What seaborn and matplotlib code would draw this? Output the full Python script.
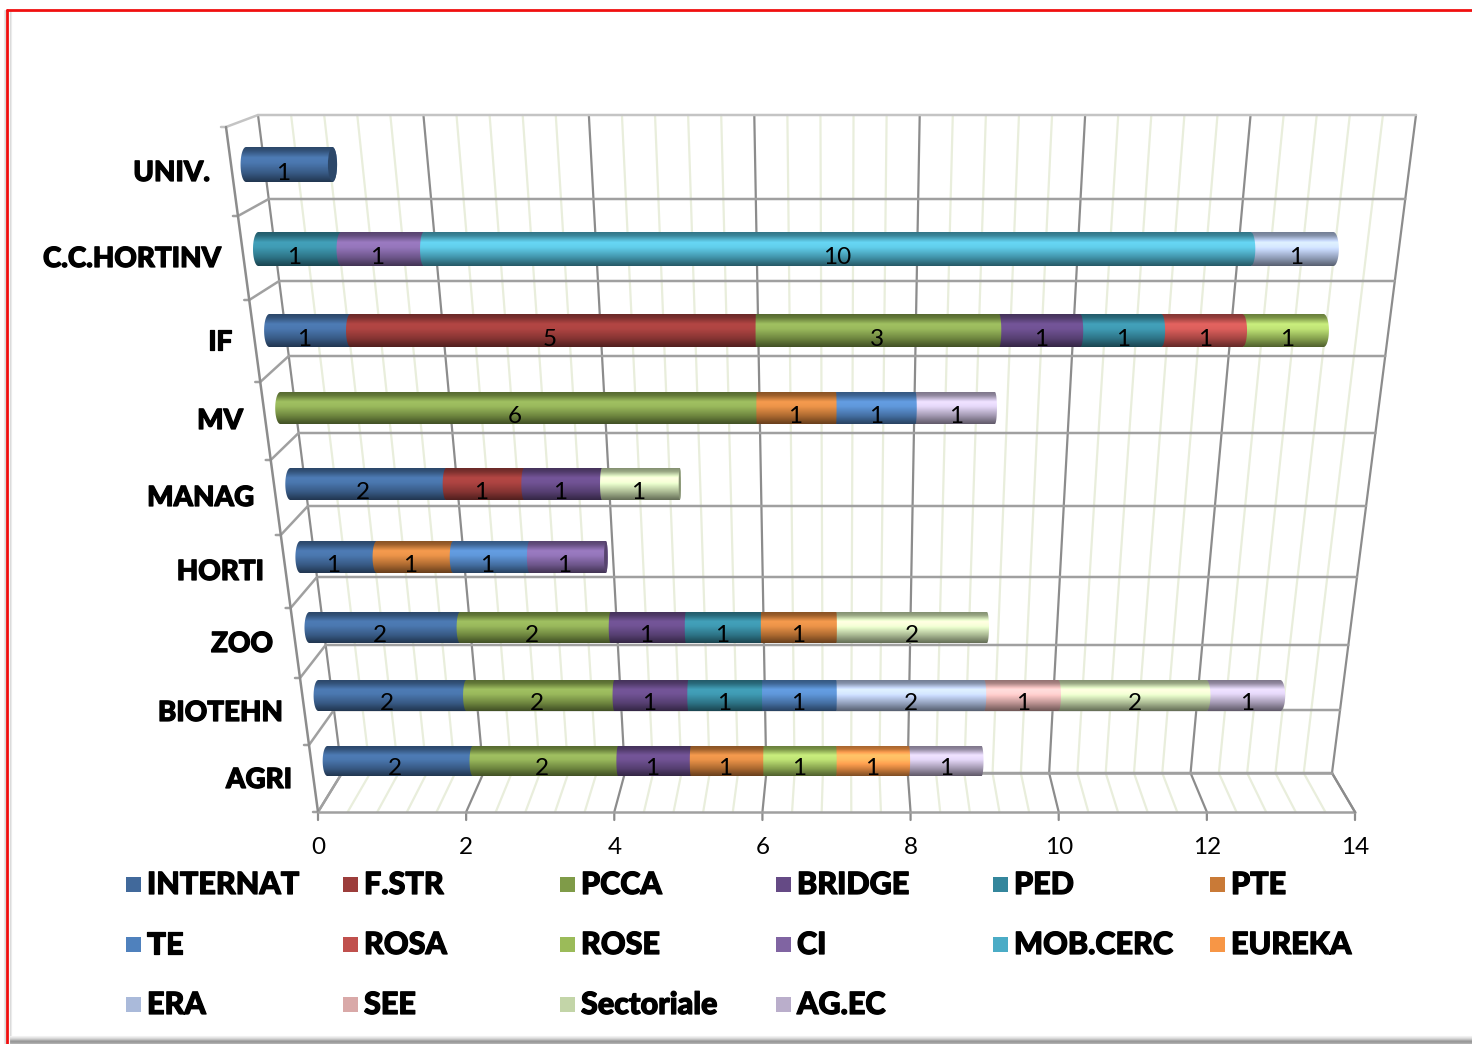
import numpy as np
import pandas as pd
import matplotlib
matplotlib.use("Agg")
import matplotlib.pyplot as plt
import matplotlib.patheffects as pe
from matplotlib.colors import to_rgb
from matplotlib.patches import Ellipse, Polygon, Rectangle
import seaborn as sns

# row order is top to bottom as in the picture
categories = ["UNIV.", "C.C.HORTINV", "IF", "MV", "MANAG", "HORTI", "ZOO", "BIOTEHN", "AGRI"]

internat = [1, 0, 1, 0, 2, 1, 2, 2, 2]
f_str = [0, 0, 5, 0, 1, 0, 0, 0, 0]
pcca = [0, 0, 3, 6, 0, 0, 2, 2, 2]
bridge = [0, 0, 1, 0, 1, 0, 1, 1, 1]
ped = [0, 1, 1, 0, 0, 0, 1, 1, 0]
pte = [0, 0, 0, 1, 0, 1, 1, 0, 1]
te = [0, 0, 0, 1, 0, 1, 0, 1, 0]
rosa = [0, 0, 1, 0, 0, 0, 0, 0, 0]
rose = [0, 0, 1, 0, 0, 0, 0, 0, 1]
ci = [0, 1, 0, 0, 0, 1, 0, 0, 0]
mob_cerc = [0, 10, 0, 0, 0, 0, 0, 0, 0]
eureka = [0, 0, 0, 0, 0, 0, 0, 0, 1]
era = [0, 1, 0, 0, 0, 0, 0, 2, 0]
see = [0, 0, 0, 0, 0, 0, 0, 1, 0]
sectoriale = [0, 0, 0, 0, 1, 0, 2, 2, 0]
ag_ec = [0, 0, 0, 1, 0, 0, 0, 1, 1]

series_names = ["INTERNAT", "F.STR", "PCCA", "BRIDGE", "PED", "PTE", "TE", "ROSA", "ROSE", "CI",
                "MOB.CERC", "EUREKA", "ERA", "SEE", "Sectoriale", "AG.EC"]
series_colors = ["#41699b", "#9c3d3b", "#7f9b48", "#654a85", "#34869c", "#c97a37", "#4f81bd", "#c0504d",
                 "#9bbb59", "#8064a2", "#4bacc6", "#f79646", "#aabada", "#d9a9a8", "#c3d5a8", "#baaecb"]
x_ticks = [0, 2, 4, 6, 8, 10, 12, 14]

df = pd.DataFrame(
    [internat, f_str, pcca, bridge, ped, pte, te, rosa, rose, ci, mob_cerc, eureka, era, see, sectoriale, ag_ec],
    index=series_names, columns=categories,
)

# perspective layout in pixels, one row per category
W, H = 1472, 1044
row_x0 = [246, 258.3, 269.3, 280.3, 290.3, 300.3, 309.3, 318.3, 327.3]
row_unit = [86.5, 82.7, 81.1, 79.4, 77.9, 76.4, 75.3, 74.0, 72.7]
row_top = [147, 232, 314, 392, 468, 541, 612, 680, 746]
row_bot = [182, 266, 347, 424, 500, 573, 643, 711, 776]
label_x = [210, 221, 232, 243, 254, 264, 273, 283, 292]
label_y = [173, 259, 342, 421, 498, 572, 644, 713, 780]
wall_y = [115, 199, 281, 356, 433, 506, 577, 645, 710, 773]
front_y = [127, 216, 300, 382, 460, 535, 608, 678, 745, 812]

sns.set_theme(style="white")
plt.rcParams["font.family"] = ["Lato", "DejaVu Sans"]
heavy = [pe.withStroke(linewidth=0.9, foreground="black")]

fig = plt.figure(figsize=(W / 100, H / 100), dpi=100, facecolor="white")
bg = fig.add_axes([0, 0, 1, 1])
bg.set_xlim(0, W)
bg.set_ylim(H, 0)
bg.axis("off")

# page border
for off, al in [(-3, 0.15), (-2, 0.25), (3, 0.25), (4, 0.12)]:
    bg.plot([7 + off, 7 + off], [10, H], color="#777777", alpha=al, lw=0.8)
bg.plot([7, 7], [10, H], color="#f01010", lw=2)
bg.plot([7, W], [10, 10], color="#f01010", lw=2)
for y, g in zip(range(1036, 1044), ["#f2f2f2", "#e6e6e6", "#d8d8d8", "#c4c4c4", "#aaaaaa", "#999999", "#a0a0a0", "#b0b0b0"]):
    bg.plot([10, W], [y, y], color=g, lw=0.8)


def back_top(v):
    return 258 + v * 1158 / 14


def back_bot(v):
    return 342 + v * 990 / 14


def front(v):
    return 318 + v * 1037 / 14


def wall_left(y):
    return 258 + (y - 115) * 84 / 658


def front_left(y):
    return 226 + (y - 127) * 92 / 685


# minor gridlines
minor = "#e9eedc"
for v in np.arange(0, 14.01, 0.4):
    if abs(v / 2 - round(v / 2)) < 1e-6:
        continue
    bg.plot([back_top(v), back_bot(v), front(v)], [115, 773, 812], color=minor, lw=1.6, zorder=1)

# major gridlines on walls and floor
major = "#8c8c8c"
for v in x_ticks:
    bg.plot([back_top(v), back_bot(v), front(v), front(v)], [115, 773, 812, 820], color=major, lw=1.6, zorder=2)
    bg.text(front(v), 847, str(v), ha="center", va="center", fontsize=17.5, color="black")
for yb, yf in zip(wall_y, front_y):
    col = "#c4c4c4" if yb == 115 else "#a0a0a0"
    bg.plot([front_left(yf) - 5, front_left(yf), wall_left(yb), back_top(14) - (yb - 115) * 84 / 658],
            [yf, yf, yb, yb], color=col, lw=1.8, zorder=2)
bg.plot([front_left(127), front(0)], [127, 812], color=major, lw=1.8, zorder=2)
bg.plot([front(0), front(14)], [812, 812], color="#a0a0a0", lw=1.8, zorder=2)
bg.plot([front(14), back_bot(14)], [812, 773], color=major, lw=1.6, zorder=2)
bg.plot([back_bot(0), back_bot(14)], [773, 773], color="#a0a0a0", lw=1.8, zorder=2)

for name, x, y in zip(categories, label_x, label_y):
    bg.text(x, y, name, ha="right", va="center", fontsize=20, fontweight="black", color="black",
            path_effects=heavy)


def bulge(px):
    # how far an end circle of the cylinder shows at this pixel column
    return (px - 790) / 100


def edge_curve(edge, s, n=24):
    phi = np.linspace(-np.pi / 2, np.pi / 2, n)
    return edge + s * np.cos(phi), 0.5 * np.sin(phi)


def outline(start, end, s0, s1):
    lx, ly = edge_curve(start, s0)
    rx, ry = edge_curve(end, s1)
    return np.column_stack([np.r_[lx, rx[::-1]], np.r_[ly, ry[::-1]]])


def shade_image(color):
    # lit cylinder: darker at both rims, brighter just above the middle
    base = np.array(to_rgb(color))
    lum = 0.3 * base[0] + 0.59 * base[1] + 0.11 * base[2]
    t = np.linspace(0, 1, 64)
    mult = np.interp(t, [0, 0.1, 0.3, 0.45, 0.75, 0.92, 1], [0.68, 0.78, 1.15, 1.12, 0.85, 0.62, 0.52])
    glow = np.interp(t, [0, 0.1, 0.3, 0.45, 0.75, 1], [0, 0, 1, 0.8, 0.1, 0])
    add = 0.3 * max(lum - 0.35, 0) * glow
    img = np.clip(base[None, :] * mult[:, None] + add[:, None], 0, 1)
    return img[:, None, :]


for i, cat in enumerate(categories):
    u = row_unit[i]
    pad = 0.5
    left = (row_x0[i] - pad * u) / W
    bottom = 1 - row_bot[i] / H
    ax = fig.add_axes([left, bottom, (14 + pad) * u / W, (row_bot[i] - row_top[i]) / H])
    ax.patch.set_alpha(0)

    vals = df[cat]
    vals = vals[vals > 0]
    total = vals.sum()
    start = 0
    z = 5
    for name, value in vals.items():
        color = series_colors[series_names.index(name)]
        end = start + value
        last = end == total
        sns.barplot(x=[value], y=[cat], left=start, color=color, saturation=1, width=1,
                    linewidth=0, orient="h", ax=ax, zorder=3)

        s0 = bulge(row_x0[i] + start * u) / u
        s1 = bulge(row_x0[i] + end * u) / u
        if last:
            s1 = abs(s1)
        # shading image runs a little under the next segment so no seam shows
        clip = Polygon(outline(start, end, s0, s1 + (0 if last else 2 / u)), closed=True,
                       facecolor="none", edgecolor="none", transform=ax.transData)
        ax.add_patch(clip)
        im = ax.imshow(shade_image(color), extent=(start - 0.2, end + 0.2, 0.5, -0.5), aspect="auto",
                       zorder=z + 0.2, interpolation="bilinear")
        im.set_clip_path(clip)

        # dark end face for bars that stop left of the view centre
        if last and row_x0[i] + end * u < 790:
            dark = tuple(c * 0.68 for c in to_rgb(color))
            ax.add_patch(Ellipse((end, 0), 2 * abs(s1), 0.98, facecolor=dark, edgecolor="none", zorder=z + 0.3))

        mid = start + value / 2
        ax.text(mid + (bulge(row_x0[i] + mid * u) - 1) / u, 0.26, str(value), ha="center", va="center",
                fontsize=17.5, color="black", zorder=50)
        start = end
        z += 1

    ax.set_xlim(-pad, 14)
    ax.set_ylim(0.5, -0.5)
    ax.axis("off")

# legend on a fixed grid, three rows of six
legend_x = [126, 343, 560, 776, 993, 1210]
legend_y = [885, 945, 1005]
for k, (name, color) in enumerate(zip(series_names, series_colors)):
    row, col = divmod(k, 6)
    bg.add_patch(Rectangle((legend_x[col], legend_y[row] - 8), 15, 15, facecolor=color, edgecolor="none"))
    bg.text(legend_x[col] + 21, legend_y[row], name, ha="left", va="center", fontsize=22,
            fontweight="black", color="black", path_effects=heavy)

fig.savefig("out.png", dpi=100)
